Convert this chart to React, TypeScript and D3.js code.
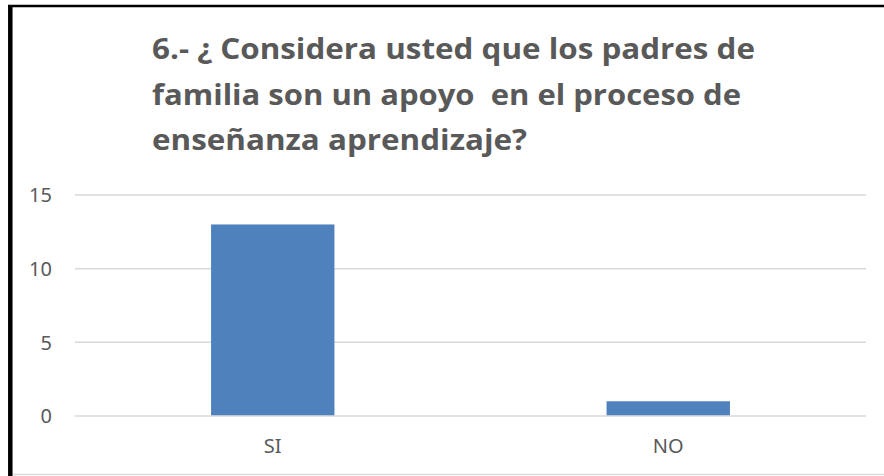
import React from "react";
import * as d3 from "d3";

const categories: string[] = ["SI", "NO"];
const values: number[] = [13, 1];
const yTicks: number[] = [0, 5, 10, 15];
const titleLines: string[] = [
  "6.- ¿ Considera usted que los padres de",
  "familia son un apoyo  en el proceso de",
  "enseñanza aprendizaje?",
];
const titleWidths: number[] = [603, 589, 375];

const W = 884;
const H = 476;
const plot = { left: 75, right: 866, top: 195, bottom: 416 };

export default function App() {
  const x = d3
    .scaleBand<string>()
    .domain(categories)
    .range([plot.left, plot.right])
    .padding(0);
  const y = d3.scaleLinear().domain([0, 15]).range([plot.bottom, plot.top]);
  const barW = x.bandwidth() * 0.312;
  const textColor = "#595959";

  return (
    <div style={{ position: "absolute", left: 0, top: 0 }}>
      <svg width={W} height={H} xmlns="http://www.w3.org/2000/svg" style={{ display: "block" }}>
        <rect x={0} y={0} width={W} height={H} fill="#ffffff" />
        {/* frame */}
        <line x1={13} x2={W} y1={474.5} y2={474.5} stroke="#d9d9d9" strokeWidth={1.5} />
        <line x1={8} x2={W} y1={6} y2={6} stroke="#000" strokeWidth={2.5} />
        <line x1={10.3} x2={10.3} y1={5} y2={476} stroke="#000" strokeWidth={4.5} />

        {/* title */}
        {titleLines.map((t, i) => (
          <text
            key={i}
            x={152}
            y={59 + i * 45.5}
            fontFamily="'Open Sans', Lato, sans-serif"
            fontWeight={700}
            fontSize={28}
            fill={textColor}
            textLength={titleWidths[i]}
            lengthAdjust="spacingAndGlyphs"
            style={{ whiteSpace: "pre" }}
          >
            {t}
          </text>
        ))}

        {/* gridlines */}
        {yTicks.map((t) => (
          <line
            key={t}
            x1={plot.left}
            x2={plot.right}
            y1={y(t)}
            y2={y(t)}
            stroke="#d9d9d9"
            strokeWidth={1.5}
          />
        ))}

        {/* y tick labels */}
        {yTicks.map((t) => (
          <text
            key={"l" + t}
            x={52}
            y={y(t)}
            dy="0.36em"
            textAnchor="end"
            fontFamily="'Noto Sans', sans-serif"
            fontSize={20}
            fill={textColor}
          >
            {t}
          </text>
        ))}

        {/* bars */}
        {categories.map((c, i) => {
          const cx = (x(c) as number) + x.bandwidth() / 2;
          return (
            <rect
              key={c}
              x={cx - barW / 2}
              y={y(values[i])}
              width={barW}
              height={y(0) - y(values[i]) - 0.75}
              fill="#4f81bd"
            />
          );
        })}

        {/* category labels */}
        {categories.map((c) => (
          <text
            key={"c" + c}
            x={(x(c) as number) + x.bandwidth() / 2}
            y={453}
            textAnchor="middle"
            fontFamily="'Noto Sans', sans-serif"
            fontSize={20}
            fill={textColor}
          >
            {c}
          </text>
        ))}
      </svg>
    </div>
  );
}
